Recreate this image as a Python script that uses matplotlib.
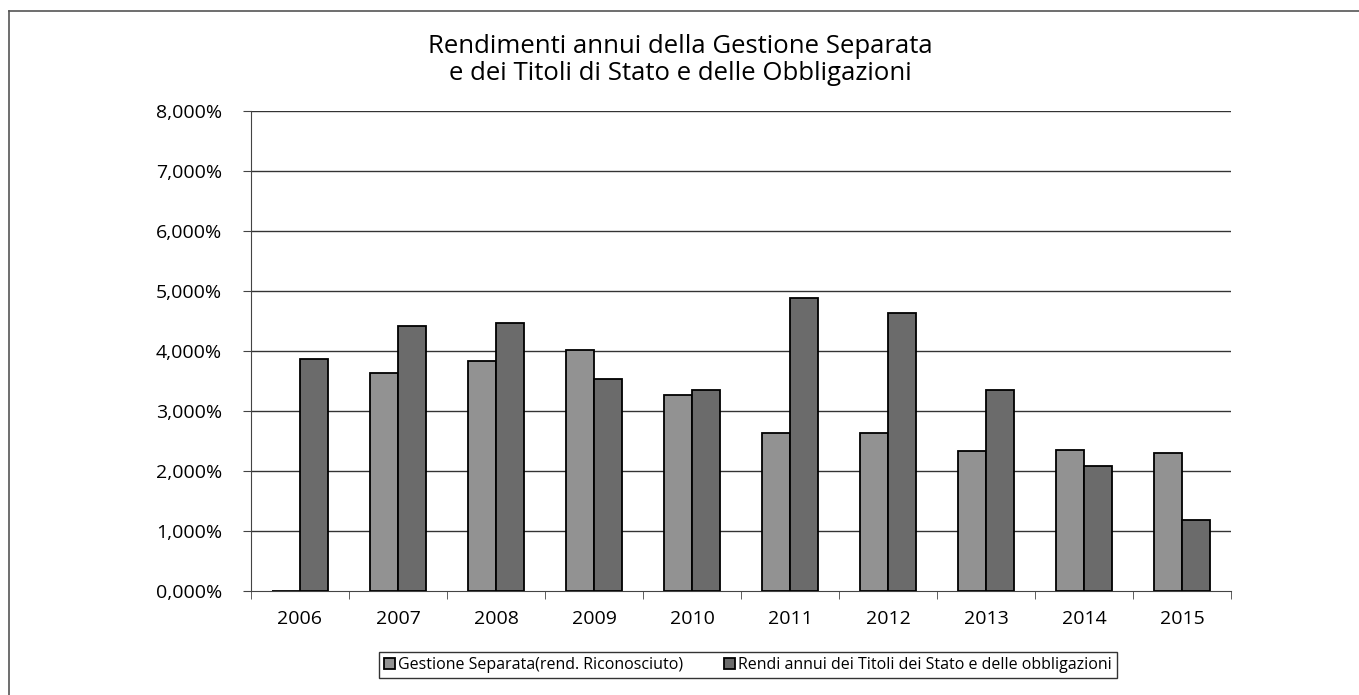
import matplotlib
matplotlib.use("Agg")
import matplotlib.pyplot as plt
from matplotlib.lines import Line2D
import numpy as np

years = ["2006", "2007", "2008", "2009", "2010", "2011", "2012", "2013", "2014", "2015"]
gestione = [0.0, 3.63, 3.83, 4.02, 3.26, 2.64, 2.63, 2.34, 2.35, 2.30]
titoli = [3.86, 4.41, 4.46, 3.54, 3.35, 4.89, 4.64, 3.35, 2.08, 1.19]
yticks = [0, 1, 2, 3, 4, 5, 6, 7, 8]
ytick_labels = ["0,000%", "1,000%", "2,000%", "3,000%", "4,000%", "5,000%", "6,000%", "7,000%", "8,000%"]
series_names = ["Gestione Separata(rend. Riconosciuto)",
                "Rendi annui dei Titoli dei Stato e delle obbligazioni"]
title = "Rendimenti annui della Gestione Separata\ne dei Titoli di Stato e delle Obbligazioni"

plt.rcParams['font.family'] = ['Open Sans', 'DejaVu Sans']

W, H = 1359, 695
fig = plt.figure(figsize=(W / 100, H / 100), dpi=100)
ax = fig.add_axes([251 / W, 1 - 591 / H, (1231 - 251) / W, (591 - 111) / H])

x = np.arange(len(years))
bw = 0.286
ax.bar(x - bw / 2, gestione, bw, color="#929292", edgecolor="black", linewidth=1.3,
       label=series_names[0], zorder=3)
ax.bar(x + bw / 2, titoli, bw, color="#6b6b6b", edgecolor="black", linewidth=1.3,
       label=series_names[1], zorder=3)

ax.set_xlim(-0.5, len(years) - 0.5)
ax.set_ylim(0, 8)
ax.set_yticks(yticks)
ax.set_yticklabels(ytick_labels, fontsize=14)
ax.set_xticks(x)
ax.set_xticklabels(years, fontsize=14)
ax.tick_params(axis="x", length=0, pad=14)
ax.set_xticks(np.arange(-0.5, len(years)), minor=True)
ax.tick_params(axis="x", which="minor", length=6, direction="out", color="#444444")
ax.tick_params(axis="y", length=6, direction="out", pad=15, color="#444444")

for v in yticks[1:]:
    ax.axhline(v, color="#333333", linewidth=1.0, zorder=1)

for s in ["top", "right"]:
    ax.spines[s].set_visible(False)
ax.spines["left"].set_color("#444444")
ax.spines["bottom"].set_color("#444444")

fig.text(680 / W, 1 - 60 / H, title, ha="center", va="center", fontsize=18.5,
         linespacing=1.1)

leg = fig.legend(loc="center", bbox_to_anchor=(748 / W, 1 - 665 / H), ncol=2,
                 fontsize=11.5, frameon=True, fancybox=False, edgecolor="black",
                 handlelength=0.65, handleheight=0.65, handletextpad=0.2,
                 columnspacing=2.6, borderpad=0.3, borderaxespad=0)
leg.get_frame().set_linewidth(1.0)

fig.add_artist(Line2D([9 / W, 9 / W], [0, 1 - 11 / H], transform=fig.transFigure,
                      color="#555555", linewidth=1.2))
fig.add_artist(Line2D([9 / W, 1], [1 - 11 / H, 1 - 11 / H], transform=fig.transFigure,
                      color="#555555", linewidth=1.2))

fig.savefig("out.png", dpi=100)
